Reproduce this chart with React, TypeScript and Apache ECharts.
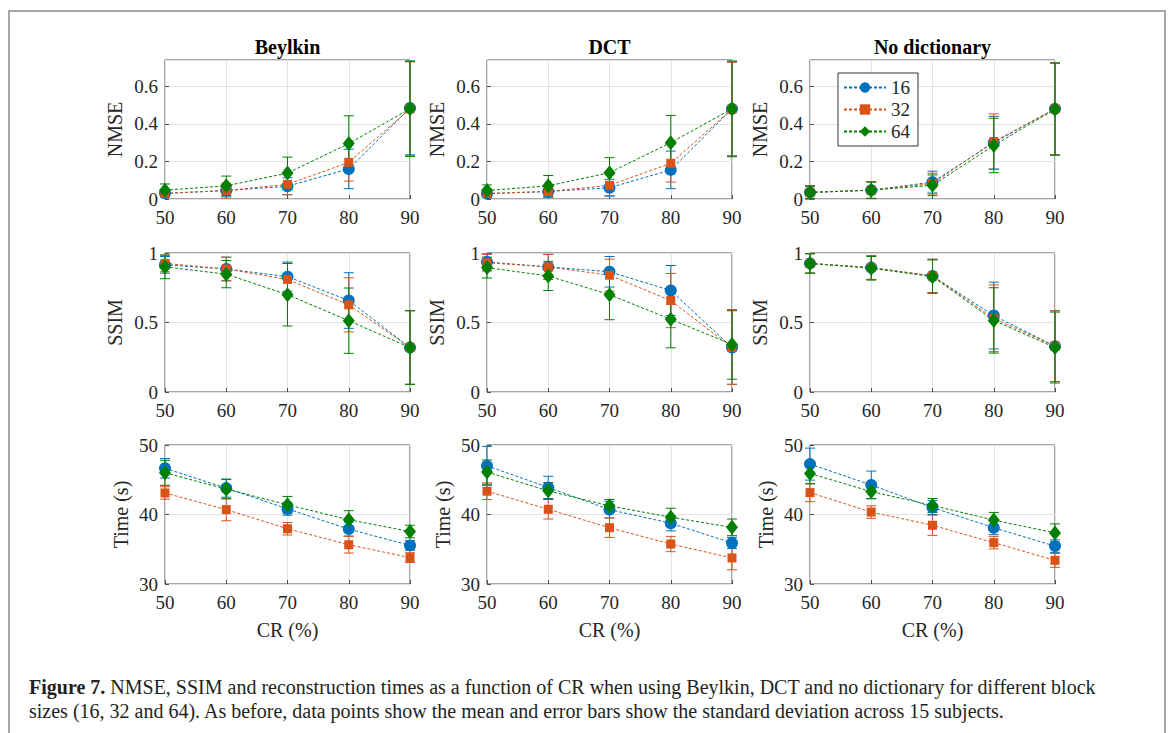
import React, { useEffect, useRef } from "react";
import * as echarts from "echarts";

// ---------- data ----------
const CR = [50, 60, 70, 80, 90];
const BLOCKS = ["16", "32", "64"];
const DICTS = ["Beylkin", "DCT", "No dictionary"];
const METRICS = ["NMSE", "SSIM", "Time (s)"];

// NMSE (mean / std)
const nmseBeylkin16 = [0.03, 0.045, 0.068, 0.16, 0.485];
const nmseBeylkin16Sd = [0.02, 0.03, 0.045, 0.105, 0.25];
const nmseBeylkin32 = [0.03, 0.045, 0.078, 0.195, 0.48];
const nmseBeylkin32Sd = [0.02, 0.04, 0.055, 0.1, 0.25];
const nmseBeylkin64 = [0.047, 0.07, 0.138, 0.295, 0.48];
const nmseBeylkin64Sd = [0.033, 0.052, 0.085, 0.148, 0.253];

const nmseDct16 = [0.028, 0.04, 0.06, 0.155, 0.48];
const nmseDct16Sd = [0.02, 0.03, 0.045, 0.1, 0.25];
const nmseDct32 = [0.03, 0.04, 0.073, 0.19, 0.478];
const nmseDct32Sd = [0.02, 0.032, 0.055, 0.1, 0.25];
const nmseDct64 = [0.045, 0.07, 0.14, 0.3, 0.48];
const nmseDct64Sd = [0.03, 0.055, 0.08, 0.145, 0.255];

const nmseNone16 = [0.035, 0.047, 0.09, 0.3, 0.48];
const nmseNone16Sd = [0.035, 0.045, 0.058, 0.14, 0.245];
const nmseNone32 = [0.035, 0.047, 0.082, 0.305, 0.48];
const nmseNone32Sd = [0.035, 0.045, 0.055, 0.148, 0.245];
const nmseNone64 = [0.035, 0.047, 0.073, 0.285, 0.478];
const nmseNone64Sd = [0.033, 0.043, 0.055, 0.145, 0.245];

// SSIM
const ssimBeylkin16 = [0.915, 0.885, 0.83, 0.658, 0.32];
const ssimBeylkin16Sd = [0.06, 0.085, 0.105, 0.2, 0.265];
const ssimBeylkin32 = [0.925, 0.885, 0.81, 0.627, 0.32];
const ssimBeylkin32Sd = [0.06, 0.085, 0.115, 0.195, 0.265];
const ssimBeylkin64 = [0.9, 0.848, 0.7, 0.513, 0.32];
const ssimBeylkin64Sd = [0.085, 0.098, 0.225, 0.235, 0.265];

const ssimDct16 = [0.935, 0.9, 0.865, 0.73, 0.32];
const ssimDct16Sd = [0.06, 0.09, 0.11, 0.18, 0.265];
const ssimDct32 = [0.93, 0.9, 0.84, 0.658, 0.32];
const ssimDct32Sd = [0.06, 0.09, 0.115, 0.195, 0.265];
const ssimDct64 = [0.895, 0.835, 0.7, 0.523, 0.342];
const ssimDct64Sd = [0.075, 0.105, 0.18, 0.205, 0.25];

const ssimNone16 = [0.925, 0.895, 0.835, 0.55, 0.33];
const ssimNone16Sd = [0.07, 0.085, 0.12, 0.24, 0.255];
const ssimNone32 = [0.925, 0.895, 0.835, 0.53, 0.33];
const ssimNone32Sd = [0.07, 0.085, 0.12, 0.24, 0.255];
const ssimNone64 = [0.925, 0.89, 0.83, 0.515, 0.32];
const ssimNone64Sd = [0.07, 0.085, 0.12, 0.235, 0.255];

// Time (s)
const timeBeylkin16 = [46.65, 43.8, 40.8, 37.9, 35.55];
const timeBeylkin16Sd = [1.4, 1.3, 0.9, 1.0, 0.7];
const timeBeylkin32 = [43.1, 40.7, 37.95, 35.65, 33.8];
const timeBeylkin32Sd = [0.9, 1.6, 0.9, 1.2, 0.7];
const timeBeylkin64 = [46.0, 43.65, 41.4, 39.25, 37.55];
const timeBeylkin64Sd = [1.8, 1.4, 1.2, 1.3, 0.9];

const timeDct16 = [47.0, 43.9, 40.7, 38.75, 35.9];
const timeDct16Sd = [2.8, 1.6, 1.2, 1.1, 0.8];
const timeDct32 = [43.35, 40.75, 38.1, 35.75, 33.75];
const timeDct32Sd = [1.2, 1.4, 1.4, 1.1, 1.7];
const timeDct64 = [46.1, 43.4, 41.25, 39.6, 38.15];
const timeDct64Sd = [1.75, 1.2, 0.9, 1.3, 1.2];

const timeNone16 = [47.25, 44.25, 41.0, 38.1, 35.45];
const timeNone16Sd = [2.3, 2.0, 1.0, 1.0, 0.9];
const timeNone32 = [43.15, 40.35, 38.45, 35.95, 33.4];
const timeNone32Sd = [1.3, 0.9, 1.45, 0.9, 1.0];
const timeNone64 = [45.9, 43.3, 41.3, 39.2, 37.35];
const timeNone64Sd = [1.5, 1.0, 1.0, 1.1, 1.3];

// panels[row][col] = [[mean, sd] per block]
const PANELS = [
  [
    [[nmseBeylkin16, nmseBeylkin16Sd], [nmseBeylkin32, nmseBeylkin32Sd], [nmseBeylkin64, nmseBeylkin64Sd]],
    [[nmseDct16, nmseDct16Sd], [nmseDct32, nmseDct32Sd], [nmseDct64, nmseDct64Sd]],
    [[nmseNone16, nmseNone16Sd], [nmseNone32, nmseNone32Sd], [nmseNone64, nmseNone64Sd]],
  ],
  [
    [[ssimBeylkin16, ssimBeylkin16Sd], [ssimBeylkin32, ssimBeylkin32Sd], [ssimBeylkin64, ssimBeylkin64Sd]],
    [[ssimDct16, ssimDct16Sd], [ssimDct32, ssimDct32Sd], [ssimDct64, ssimDct64Sd]],
    [[ssimNone16, ssimNone16Sd], [ssimNone32, ssimNone32Sd], [ssimNone64, ssimNone64Sd]],
  ],
  [
    [[timeBeylkin16, timeBeylkin16Sd], [timeBeylkin32, timeBeylkin32Sd], [timeBeylkin64, timeBeylkin64Sd]],
    [[timeDct16, timeDct16Sd], [timeDct32, timeDct32Sd], [timeDct64, timeDct64Sd]],
    [[timeNone16, timeNone16Sd], [timeNone32, timeNone32Sd], [timeNone64, timeNone64Sd]],
  ],
];

const Y_RANGES = [
  { min: 0, max: 0.74, interval: 0.2 },
  { min: 0, max: 1, interval: 0.5 },
  { min: 30, max: 50, interval: 10 },
];

const CAPTION_1_BOLD = "Figure 7.";
const CAPTION_1 =
  " NMSE, SSIM and reconstruction times as a function of CR when using Beylkin, DCT and no dictionary for different block";
const CAPTION_2 =
  "sizes (16, 32 and 64). As before, data points show the mean and error bars show the standard deviation across 15 subjects.";

// ---------- style ----------
const COLORS = ["#0072BD", "#D95319", "#008000"];
const SYMBOLS = ["circle", "rect", "diamond"];
const SYMBOL_SIZES: any[] = [12, 9, [12, 15]];
const FONT = "Liberation Serif";
const TEXT = "#262626";
const COL_LEFT = [165, 487, 810];
const ROW_TOP = [60, 253, 445];
const PW = 245;
const PH = 139;
const Y_NAME_GAP = [40, 40, 34];

export default function App() {
  const ref = useRef<HTMLDivElement>(null);

  useEffect(() => {
    if (!ref.current) return;
    const chart = echarts.init(ref.current, undefined, { renderer: "svg" });

    const grids: any[] = [];
    const xAxes: any[] = [];
    const yAxes: any[] = [];
    const series: any[] = [];

    for (let r = 0; r < 3; r++) {
      for (let c = 0; c < 3; c++) {
        const idx = r * 3 + c;
        grids.push({
          left: COL_LEFT[c],
          top: ROW_TOP[r],
          width: PW,
          height: PH,
          show: true,
          borderColor: "#4d4d4d",
          borderWidth: 1,
          backgroundColor: "#fff",
        });
        xAxes.push({
          type: "value",
          gridIndex: idx,
          min: 50,
          max: 90,
          interval: 10,
          axisLine: { show: false },
          axisTick: { inside: true, length: 4, lineStyle: { color: "#4d4d4d" } },
          axisLabel: { margin: 9, fontSize: 19, fontFamily: FONT, color: TEXT },
          splitLine: { show: true, lineStyle: { color: "#e2e2e2", width: 1 } },
          name: r === 2 ? "CR (%)" : "",
          nameLocation: "middle",
          nameGap: 36,
          nameTextStyle: { fontSize: 20, fontFamily: FONT, color: TEXT },
        });
        yAxes.push({
          type: "value",
          gridIndex: idx,
          min: Y_RANGES[r].min,
          max: Y_RANGES[r].max,
          interval: Y_RANGES[r].interval,
          axisLine: { show: false },
          axisTick: { inside: true, length: 4, lineStyle: { color: "#4d4d4d" } },
          axisLabel: {
            margin: 7,
            fontSize: 19,
            fontFamily: FONT,
            color: TEXT,
            showMaxLabel: r === 0 ? false : true,
          },
          splitLine: { show: true, lineStyle: { color: "#e2e2e2", width: 1 } },
          name: METRICS[r],
          nameLocation: "middle",
          nameGap: Y_NAME_GAP[r],
          nameTextStyle: { fontSize: 20, fontFamily: FONT, color: TEXT },
        });

        const blocks = PANELS[r][c];
        for (let b = 0; b < 3; b++) {
          const [mean, sd] = blocks[b];
          const color = COLORS[b];
          series.push({
            type: "custom",
            name: BLOCKS[b] + " err",
            xAxisIndex: idx,
            yAxisIndex: idx,
            data: CR.map((x, i) => [x, mean[i] - sd[i], mean[i] + sd[i]]),
            encode: { x: 0, y: [1, 2] },
            renderItem: (params: any, api: any) => {
              const x = api.value(0);
              const p1 = api.coord([x, api.value(1)]);
              const p2 = api.coord([x, api.value(2)]);
              const style = { stroke: color, lineWidth: 1 };
              return {
                type: "group",
                children: [
                  { type: "line", shape: { x1: p1[0], y1: p1[1], x2: p2[0], y2: p2[1] }, style },
                  { type: "line", shape: { x1: p1[0] - 5, y1: p1[1], x2: p1[0] + 5, y2: p1[1] }, style },
                  { type: "line", shape: { x1: p2[0] - 5, y1: p2[1], x2: p2[0] + 5, y2: p2[1] }, style },
                ],
              };
            },
            silent: true,
          });
          series.push({
            type: "line",
            name: BLOCKS[b],
            xAxisIndex: idx,
            yAxisIndex: idx,
            data: CR.map((x, i) => [x, mean[i]]),
            symbol: SYMBOLS[b],
            symbolSize: SYMBOL_SIZES[b],
            showAllSymbol: true,
            lineStyle: { color, width: 1, type: [3, 2] },
            itemStyle: { color, borderColor: color, borderWidth: 0 },
          });
        }
      }
    }

    const graphics: any[] = [
      {
        type: "rect",
        shape: { x: 9, y: 11, width: 1156, height: 740 },
        style: { fill: "none", stroke: "#8a8a8a", lineWidth: 1.5 },
        z: -10,
      },
    ];
    DICTS.forEach((d, c) => {
      graphics.push({
        type: "text",
        x: COL_LEFT[c] + PW / 2,
        y: 47,
        style: {
          text: d,
          font: `bold 20px ${FONT}`,
          fill: "#000",
          textAlign: "center",
          textVerticalAlign: "middle",
        },
      });
    });
    graphics.push({
      type: "text",
      x: 29,
      y: 687,
      style: {
        text: `{b|${CAPTION_1_BOLD}}${CAPTION_1}`,
        font: `20px ${FONT}`,
        fill: "#231f20",
        textVerticalAlign: "middle",
        rich: { b: { fontWeight: "bold", fontSize: 20, fontFamily: FONT, fill: "#231f20" } },
      },
    });
    graphics.push({
      type: "text",
      x: 29,
      y: 711,
      style: {
        text: CAPTION_2,
        font: `20px ${FONT}`,
        fill: "#231f20",
        textVerticalAlign: "middle",
      },
    });

    chart.setOption({
      animation: false,
      backgroundColor: "#fff",
      grid: grids,
      xAxis: xAxes,
      yAxis: yAxes,
      series,
      legend: {
        data: BLOCKS,
        left: 838,
        top: 73,
        orient: "vertical",
        itemWidth: 42,
        itemHeight: 13,
        itemGap: 3,
        padding: [5, 8, 5, 5],
        borderColor: "#333",
        borderWidth: 1,
        backgroundColor: "#fff",
        selectedMode: false,
        textStyle: { fontSize: 19, fontFamily: FONT, color: TEXT },
      },
      graphic: graphics,
    });

    return () => chart.dispose();
  }, []);

  return (
    <div
      ref={ref}
      style={{ position: "absolute", left: 0, top: 0, width: 1168, height: 733 }}
    />
  );
}
